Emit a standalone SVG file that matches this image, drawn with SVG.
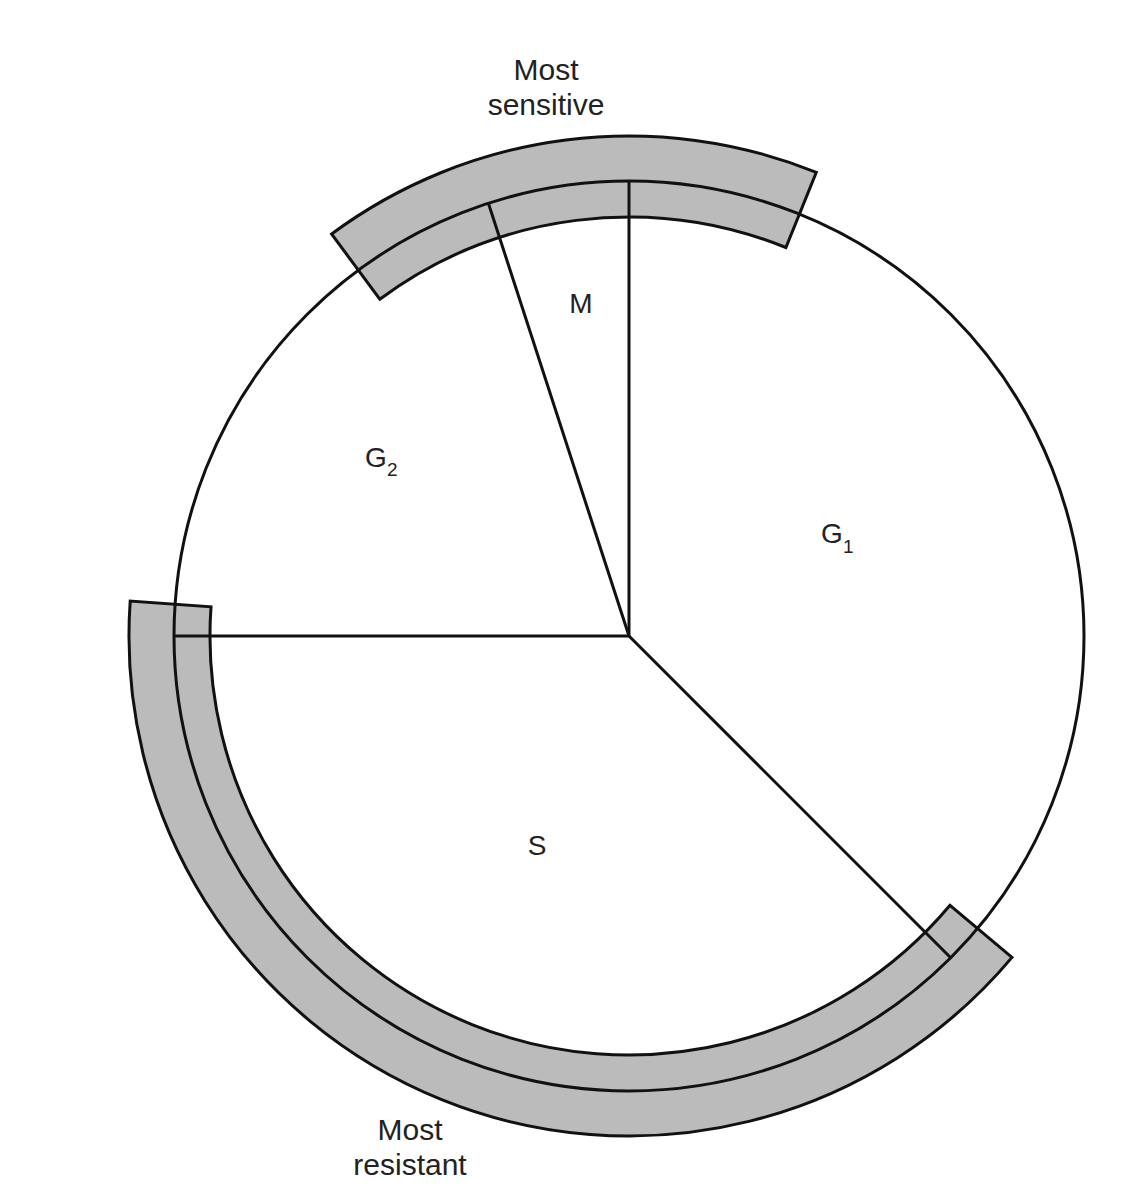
<svg xmlns="http://www.w3.org/2000/svg" width="1144" height="1200" viewBox="0 0 1144 1200">
  <style>
    .band { fill: #bbbbbb; stroke: #111111; stroke-width: 3; stroke-linejoin: miter; }
    .ln { fill: none; stroke: #111111; stroke-width: 3; }
    .lbl { font-family: "Liberation Sans", Arial, sans-serif; font-size: 30px; fill: #222222; }
    .ph { font-family: "Liberation Sans", Arial, sans-serif; font-size: 28px; fill: #222222; }
    .sub { font-family: "Liberation Sans", Arial, sans-serif; font-size: 19px; fill: #222222; }
  </style>
  <rect width="1144" height="1200" fill="#ffffff"/>
  <g id="band-sensitive">
    <path class="band" d="M 331.6 234.0 A 500 500 0 0 1 816.3 172.4 L 785.9 247.5 A 419 419 0 0 0 379.8 299.2 Z"/>
  </g>
  <g id="band-resistant">
    <path class="band" d="M 1012.0 957.4 A 500 500 0 0 1 130.2 601.1 L 211.0 606.8 A 419 419 0 0 0 950.0 905.3 Z"/>
  </g>
  <g id="cycle">
    <circle class="ln" cx="629" cy="636" r="455"/>
  </g>
  <g id="connectors">
    <line class="ln" x1="629" y1="636" x2="629" y2="181"/>
    <line class="ln" x1="629" y1="636" x2="488.4" y2="203.3"/>
    <line class="ln" x1="629" y1="636" x2="174" y2="636"/>
    <line class="ln" x1="629" y1="636" x2="950.7" y2="957.7"/>
  </g>
  <g id="phase-M">
    <text class="ph" x="581" y="313" text-anchor="middle">M</text>
  </g>
  <g id="phase-G2">
    <text class="ph" x="365" y="467">G</text>
    <text class="sub" x="387" y="476">2</text>
  </g>
  <g id="phase-G1">
    <text class="ph" x="821" y="543">G</text>
    <text class="sub" x="843" y="553">1</text>
  </g>
  <g id="phase-S">
    <text class="ph" x="537" y="855" text-anchor="middle">S</text>
  </g>
  <g id="label-sensitive">
    <text class="lbl" x="546" y="80" text-anchor="middle">Most</text>
    <text class="lbl" x="546" y="115" text-anchor="middle">sensitive</text>
  </g>
  <g id="label-resistant">
    <text class="lbl" x="410" y="1140" text-anchor="middle">Most</text>
    <text class="lbl" x="410" y="1175" text-anchor="middle">resistant</text>
  </g>
</svg>
